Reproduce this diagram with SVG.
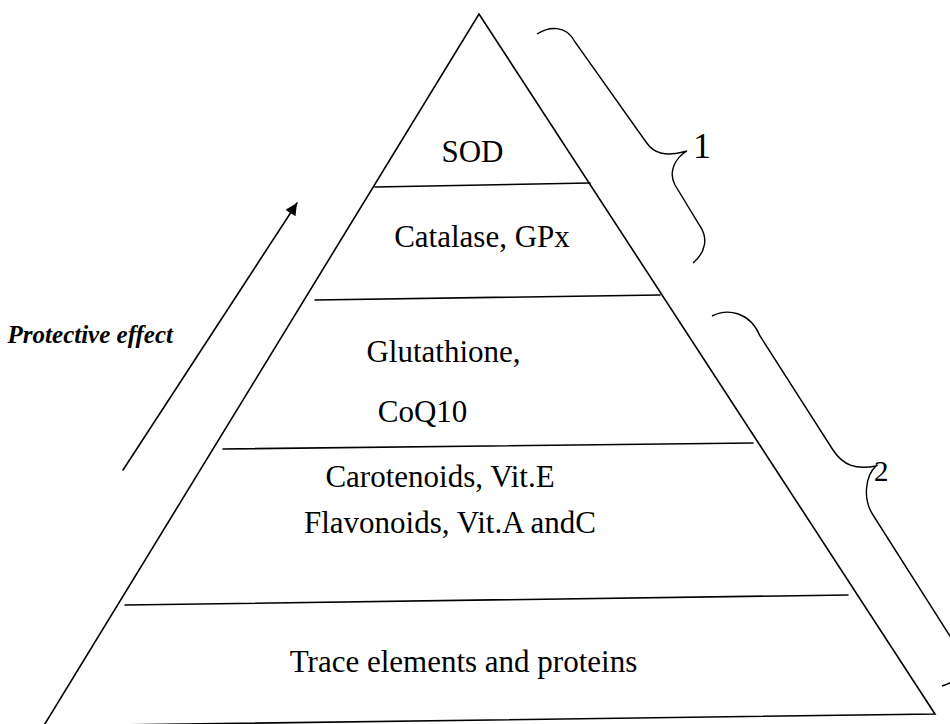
<svg xmlns="http://www.w3.org/2000/svg" width="950" height="724" viewBox="0 0 950 724">
<style>
.ln{stroke:#000;stroke-width:1.6;fill:none;stroke-linecap:round}
.br{stroke:#000;stroke-width:1.4;fill:none}
.t{font-family:"Liberation Serif","Times New Roman",serif;font-size:31px;fill:#000;text-anchor:middle}
.lab{font-family:"Liberation Serif","Times New Roman",serif;fill:#000}
</style>
<defs>
<marker id="ah" viewBox="0 0 10 10" refX="10" refY="5" markerWidth="16" markerHeight="12" markerUnits="userSpaceOnUse" orient="auto">
<path d="M0,0 L10,5 L0,10 z" fill="#000"/>
</marker>
</defs>
<rect width="950" height="724" fill="#fff"/>
<g id="pyramid">
<path class="ln" d="M43,727 L479,14 L935,714 L40,726"/>
</g>
<g id="dividers">
<line class="ln" x1="375" y1="187" x2="590" y2="183"/>
<line class="ln" x1="315" y1="300" x2="660" y2="295"/>
<line class="ln" x1="223" y1="449" x2="753" y2="443"/>
<line class="ln" x1="125" y1="605" x2="848" y2="595"/>
</g>
<g id="level-sod"><text class="t" x="472.5" y="162">SOD</text></g>
<g id="level-catalase"><text class="t" x="482" y="247">Catalase, GPx</text></g>
<g id="level-glutathione"><text class="t" x="443.5" y="362">Glutathione,</text><text class="t" x="422.5" y="422">CoQ10</text></g>
<g id="level-carotenoids"><text class="t" x="440" y="487">Carotenoids, Vit.E</text><text class="t" x="450" y="533">Flavonoids, Vit.A andC</text></g>
<g id="level-trace"><text class="t" x="463.5" y="672">Trace elements and proteins</text></g>
<g id="brace-1">
<path class="br" d="M537,34 C548,27 566,24 575,42 L646,142 C654,154 666,157 687,151 C675,158 668,172 675,185 L700,226 C708,238 706,252 693,263"/>
<text class="lab" x="693" y="158" font-size="36">1</text>
</g>
<g id="brace-2">
<path class="br" d="M712,316 C728,308 750,312 760,336 L833,450 C843,465 855,470 876,466 C866,475 862,498 873,515 L962,655 C972,670 960,680 942,686"/>
<text class="lab" x="874" y="481" font-size="29">2</text>
</g>
<g id="connectors">
<line class="ln" x1="123" y1="470" x2="297" y2="203" marker-end="url(#ah)"/>
</g>
<g id="label-protective">
<text class="lab" x="173" y="343" font-size="25" font-style="italic" font-weight="bold" text-anchor="end">Protective effect</text>
</g>
</svg>
